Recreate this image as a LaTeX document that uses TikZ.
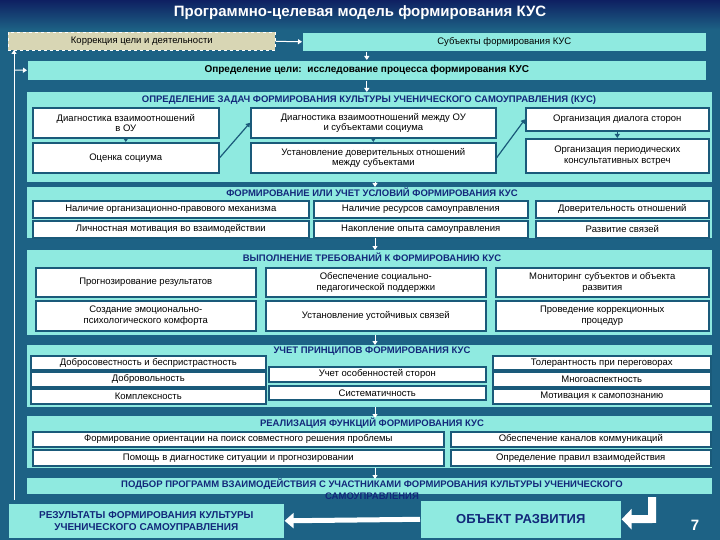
\documentclass[tikz,border=0pt]{standalone}
\usepackage{fontspec}
\setmainfont{Liberation Sans}
\usetikzlibrary{arrows.meta}
\definecolor{bgc}{HTML}{1D6285}
\definecolor{band}{HTML}{8FEAE0}
\definecolor{bord}{HTML}{1A5A7A}
\definecolor{navy}{HTML}{12287A}
\definecolor{beige}{HTML}{D8D6B4}
\tikzset{
 box/.style={draw=bord,line width=1.6pt,fill=white,inner sep=0pt,align=center,anchor=north west,font=\fontsize{9.5}{10.5}\selectfont},
 bandbox/.style={fill=band,draw=none,inner sep=0pt,anchor=north west},
 hdr/.style={font=\fontsize{9.5}{10}\selectfont\bfseries,text=navy,inner sep=0pt},
 warr/.style={white,line width=1pt,-{Triangle[length=4pt,width=5pt]}},
 bigarr/.style={white,line width=5pt,-{Triangle[length=9pt,width=15pt]}},
 conn/.style={bord,line width=1.2pt,-{Triangle[length=4pt,width=5pt]}},
}
\begin{document}
\begin{tikzpicture}[x=1pt,y=-1pt]
\def\bx[#1]#2#3#4#5#6#7{\node[#1,minimum width={(#5-#3)*1pt},minimum height={(#6-#4)*1pt}] (#2) at (#3,#4) {#7};}
\useasboundingbox (0,0) rectangle (720,540);
\fill[bgc] (0,0) rectangle (720,540);
\shade[top color=navy!80!black,bottom color=bgc] (0,0) rectangle (720,30);
\node[font=\fontsize{15}{15}\selectfont\bfseries,text=white] (title) at (360,13) {Программно-целевая модель формирования КУС};
\bx[box,fill=beige,draw=white,dashed,line width=0.6pt]{korr}{8}{32}{275}{50}{Коррекция цели и деятельности}
\bx[box,fill=band,draw=none]{subj}{302}{32}{705}{50}{Субъекты формирования КУС}
\bx[box,fill=band,draw=none,font=\fontsize{10}{11}\selectfont\bfseries]{opr}{27}{60}{705}{79}{Определение цели:\ \ исследование процесса формирования КУС}
\draw[warr] (korr.east) -- (subj.west);
\coordinate (lb) at (14,500);
\draw[warr] (lb) -- (14,50);
\draw[warr] (14,70) -- (opr.west);
\draw[warr] (subj.south -| opr.north) -- (opr.north);
\bx[bandbox]{s1}{27}{92}{712}{182}{}
\node[hdr] (h1) at (369,100) {ОПРЕДЕЛЕНИЕ ЗАДАЧ ФОРМИРОВАНИЯ КУЛЬТУРЫ УЧЕНИЧЕСКОГО САМОУПРАВЛЕНИЯ (КУС)};
\bx[box]{a1}{32}{107}{218}{137}{Диагностика взаимоотношений\\в ОУ}
\bx[box]{a2}{32}{142}{218}{172}{Оценка социума}
\bx[box]{b1}{250}{107}{495}{137}{Диагностика взаимоотношений между ОУ\\и субъектами социума}
\bx[box]{b2}{250}{142}{495}{172}{Установление доверительных отношений\\между субъектами}
\bx[box]{c1}{525}{107}{708}{130}{Организация диалога сторон}
\bx[box]{c2}{525}{138}{708}{172}{Организация периодических\\консультативных встреч}
\draw[conn] (a1) -- (a2);
\draw[conn] (b1) -- (b2);
\draw[conn] (c1) -- (c2);
\draw[conn] (a2.east) -- (b1.west);
\draw[conn] (b2.east) -- (c1.west);
\draw[warr] (opr.south) -- (opr.south |- s1.north);
\bx[bandbox]{s2}{27}{187}{712}{238}{}
\node[hdr] (h2) at (372,192) {ФОРМИРОВАНИЕ ИЛИ УЧЕТ УСЛОВИЙ ФОРМИРОВАНИЯ КУС};
\bx[box]{d1}{32}{200}{308}{217}{Наличие организационно-правового механизма}
\bx[box]{d2}{32}{220}{308}{237}{Личностная мотивация во взаимодействии}
\bx[box]{e1}{313}{200}{527}{217}{Наличие ресурсов самоуправления}
\bx[box]{e2}{313}{220}{527}{237}{Накопление опыта самоуправления}
\bx[box]{f1}{535}{200}{708}{217}{Доверительность отношений}
\bx[box]{f2}{535}{220}{708}{237}{Развитие связей}
\draw[warr] (375,182) -- (375,187);
\bx[bandbox]{s3}{27}{250}{712}{335}{}
\node[hdr] (h3) at (372,257) {ВЫПОЛНЕНИЕ ТРЕБОВАНИЙ К ФОРМИРОВАНИЮ КУС};
\bx[box]{g1}{35}{267}{255}{296}{Прогнозирование результатов}
\bx[box]{g2}{35}{300}{255}{330}{Создание эмоционально-\\психологического комфорта}
\bx[box]{k1}{265}{267}{485}{296}{Обеспечение социально-\\педагогической поддержки}
\bx[box]{k2}{265}{300}{485}{330}{Установление устойчивых связей}
\bx[box]{m1}{495}{267}{708}{296}{Мониторинг субъектов и объекта\\развития}
\bx[box]{m2}{495}{300}{708}{330}{Проведение коррекционных\\процедур}
\draw[warr] (375,238) -- (375,250);
\bx[bandbox]{s4}{27}{345}{712}{407}{}
\node[hdr] (h4) at (372,351) {УЧЕТ ПРИНЦИПОВ ФОРМИРОВАНИЯ КУС};
\bx[box]{p1}{30}{355}{265}{369}{Добросовестность и беспристрастность}
\bx[box]{p2}{30}{371}{265}{386}{Добровольность}
\bx[box]{p3}{30}{388}{265}{403}{Комплексность}
\bx[box]{q1}{268}{366}{485}{381}{Учет особенностей сторон}
\bx[box]{q2}{268}{385}{485}{399}{Систематичность}
\bx[box]{r1}{492}{355}{710}{369}{Толерантность при переговорах}
\bx[box]{r2}{492}{371}{710}{386}{Многоаспектность}
\bx[box]{r3}{492}{388}{710}{403}{Мотивация к самопознанию}
\draw[warr] (375,335) -- (375,345);
\bx[bandbox]{s5}{27}{416}{712}{468}{}
\node[hdr] (h5) at (372,423) {РЕАЛИЗАЦИЯ ФУНКЦИЙ ФОРМИРОВАНИЯ КУС};
\bx[box]{t1}{32}{431}{443}{446}{Формирование ориентации на поиск совместного решения проблемы}
\bx[box]{t2}{32}{449}{443}{465}{Помощь в диагностике ситуации и прогнозировании}
\bx[box]{u1}{450}{431}{710}{446}{Обеспечение каналов коммуникаций}
\bx[box]{u2}{450}{449}{710}{465}{Определение правил взаимодействия}
\draw[warr] (375,407) -- (375,418);
\bx[bandbox]{s6}{27}{478}{712}{494}{}
\node[hdr,align=center,font=\fontsize{9.5}{12}\selectfont\bfseries] (h6) at (372,489) {ПОДБОР ПРОГРАММ ВЗАИМОДЕЙСТВИЯ С УЧАСТНИКАМИ ФОРМИРОВАНИЯ КУЛЬТУРЫ УЧЕНИЧЕСКОГО\\САМОУПРАВЛЕНИЯ};
\draw[warr] (375,468) -- (375,479);
\bx[box,fill=band,draw=none,text=navy,font=\fontsize{10}{12}\selectfont\bfseries]{res}{8}{503}{283}{537}{РЕЗУЛЬТАТЫ ФОРМИРОВАНИЯ КУЛЬТУРЫ\\УЧЕНИЧЕСКОГО САМОУПРАВЛЕНИЯ}
\bx[box,fill=band,draw=none,text=navy,font=\fontsize{13}{14}\selectfont\bfseries]{obj}{420}{500}{620}{537}{ОБЪЕКТ РАЗВИТИЯ}
\draw[bigarr] (obj.west) -- (res.east);
\coordinate (bend) at (652,497);
\draw[white,line width=8pt,-{Triangle[length=10pt,width=20pt]}] (bend) -- (652,519) -- (obj.east);
\node[font=\fontsize{15}{15}\selectfont\bfseries,text=white] (pg) at (695,525) {7};
\end{tikzpicture}
\end{document}
